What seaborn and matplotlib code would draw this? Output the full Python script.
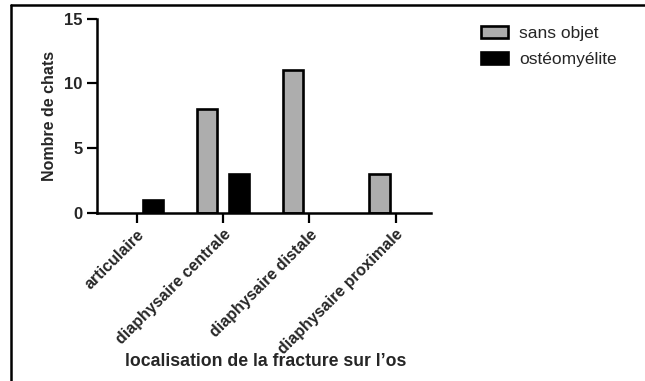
import matplotlib
matplotlib.use("Agg")
import matplotlib.pyplot as plt
import matplotlib.lines as mlines
import seaborn as sns
import pandas as pd

categories = ["articulaire", "diaphysaire centrale", "diaphysaire distale", "diaphysaire proximale"]
sans_objet = [0, 8, 11, 3]
osteomyelite = [1, 3, 0, 0]
series_names = ["sans objet", "ostéomyélite"]
y_ticks = [0, 5, 10, 15]

df = pd.DataFrame({
    "localisation": categories * 2,
    "statut": [series_names[0]] * 4 + [series_names[1]] * 4,
    "n": sans_objet + osteomyelite,
})

sns.set_theme(style="white")
plt.rcParams["font.family"] = ["Liberation Sans", "DejaVu Sans"]

fig = plt.figure(figsize=(6.45, 3.81), dpi=100)
ax = fig.add_axes([0.150, 0.441, 0.518, 0.51])

sns.barplot(data=df, x="localisation", y="n", hue="statut", order=categories,
            hue_order=series_names, palette=["#adadad", "#000000"],
            width=0.744, gap=0.37, edgecolor="black", linewidth=1.9,
            saturation=1, ax=ax, legend=True)

# empty counts leave no visible bar
for container in ax.containers:
    for bar in container:
        if bar.get_height() == 0:
            bar.set_visible(False)

ax.set_xlim(-0.465, 3.41)
ax.set_ylim(0, 15)
ax.set_yticks(y_ticks)
ax.set_yticklabels([str(v) for v in y_ticks], fontweight="bold", fontsize=12)
ax.set_xticks(range(len(categories)))
ax.set_xticklabels(categories, rotation=45, ha="right", rotation_mode="anchor",
                   fontweight="bold", fontsize=11.5)
ax.tick_params(axis="both", which="both", length=7, width=1.6, color="black",
               left=True, bottom=True, pad=3)
for s in ["top", "right"]:
    ax.spines[s].set_visible(False)
for s in ["left", "bottom"]:
    ax.spines[s].set_linewidth(1.8)
    ax.spines[s].set_color("black")

ax.set_ylabel("Nombre de chats", fontweight="bold", fontsize=11.5, labelpad=5)
ax.set_xlabel("")
fig.text(0.412, 0.052, "localisation de la fracture sur l\u2019os",
         ha="center", va="center", fontweight="bold", fontsize=12.7)

handles, labels = ax.get_legend_handles_labels()
ax.legend(handles, labels, loc="upper left", bbox_to_anchor=(0.722, 0.973),
          bbox_transform=fig.transFigure, frameon=False, fontsize=12.5,
          handlelength=1.55, handleheight=0.7, handletextpad=0.63, labelspacing=0.62)

# frame lines along top and left of the figure
fig.add_artist(mlines.Line2D([0.017, 1.0], [0.987, 0.987], color="black", lw=1.8,
                             transform=fig.transFigure))
fig.add_artist(mlines.Line2D([0.017, 0.017], [0.0, 0.987], color="black", lw=1.8,
                             transform=fig.transFigure))

fig.savefig("out.png", dpi=100)
